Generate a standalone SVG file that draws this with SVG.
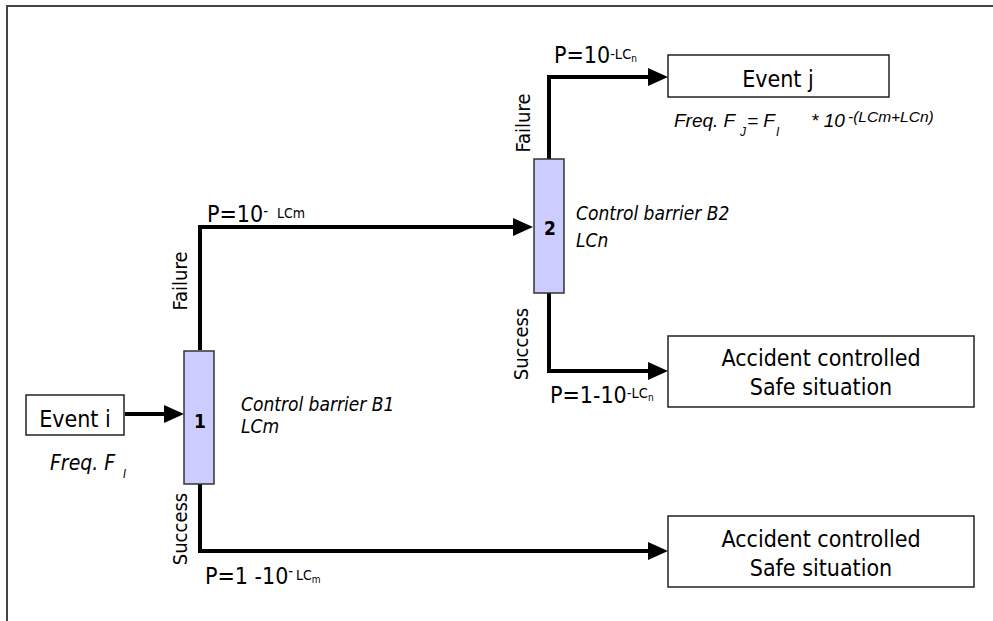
<svg xmlns="http://www.w3.org/2000/svg" width="993" height="621" viewBox="0 0 993 621">
<defs>
<style>
.t{font-family:"DejaVu Sans Condensed","DejaVu Sans",sans-serif;font-stretch:condensed;fill:#000}
.it{font-style:italic}
.ar{font-family:"Liberation Sans",Arial,sans-serif;font-style:italic;fill:#000}
.box{fill:#fff;stroke:#222;stroke-width:1.5}
.bar{fill:#ccccff;stroke:#333;stroke-width:1.5}
.conn{fill:none;stroke:#000;stroke-width:4;stroke-linejoin:miter;marker-end:url(#ah)}
.frame{fill:none;stroke:#444;stroke-width:2}
</style>
<marker id="ah" markerUnits="userSpaceOnUse" markerWidth="20" markerHeight="18" refX="4" refY="9" orient="auto">
<path d="M0,0 L20,9 L0,18 z" fill="#000"/>
</marker>
</defs>
<rect width="993" height="621" fill="#fff"/>
<path class="frame" d="M7,621 V6 H993"/>

<g id="connectors">
<path class="conn" d="M125,414 H168"/>
<path class="conn" d="M200,350 V227 H517"/>
<path class="conn" d="M200,484 V551 H652"/>
<path class="conn" d="M549,159 V77 H652"/>
<path class="conn" d="M549,293 V371 H652"/>
</g>

<g id="event-i">
<rect class="box" x="26" y="395" width="98" height="40"/>
<text class="t" x="75" y="427" font-size="23" text-anchor="middle">Event i</text>
<text class="t it" x="50" y="470" font-size="21">Freq. F<tspan x="123" y="478" font-size="12">I</tspan></text>
</g>

<g id="barrier-1">
<rect class="bar" x="184" y="351" width="30" height="133"/>
<text class="t" x="200" y="428" font-size="19" font-weight="bold" text-anchor="middle">1</text>
<text class="t it" x="241" y="411" font-size="19">Control barrier B1</text>
<text class="t it" x="241" y="433" font-size="19">LCm</text>
</g>

<g id="barrier-2">
<rect class="bar" x="534" y="159" width="30" height="134"/>
<text class="t" x="550" y="235" font-size="19" font-weight="bold" text-anchor="middle">2</text>
<text class="t it" x="576" y="220" font-size="19">Control barrier B2</text>
<text class="t it" x="576" y="247" font-size="19">LCn</text>
</g>

<g id="event-j">
<rect class="box" x="668" y="55" width="221" height="42"/>
<text class="t" x="778" y="87" font-size="23" text-anchor="middle">Event j</text>
<text class="ar" x="674" y="127" font-size="19">Freq. F<tspan x="740" y="136" font-size="12">J</tspan><tspan x="747" y="127">= F</tspan><tspan x="776" y="136" font-size="12">I</tspan><tspan x="811" y="127">* 10</tspan><tspan x="848" y="122" font-size="15.5">-(LCm+LCn)</tspan></text>
</g>

<g id="safe-1">
<rect class="box" x="668" y="336" width="306" height="71"/>
<text class="t" x="821" y="366" font-size="23" text-anchor="middle">Accident controlled</text>
<text class="t" x="821" y="395" font-size="23" text-anchor="middle">Safe situation</text>
</g>

<g id="safe-2">
<rect class="box" x="668" y="516" width="306" height="71"/>
<text class="t" x="821" y="547" font-size="23" text-anchor="middle">Accident controlled</text>
<text class="t" x="821" y="576" font-size="23" text-anchor="middle">Safe situation</text>
</g>

<g id="labels">
<text class="t" font-size="20" text-anchor="middle" transform="translate(187,281) rotate(-90)">Failure</text>
<text class="t" font-size="20" text-anchor="middle" transform="translate(187,529) rotate(-90)">Success</text>
<text class="t" font-size="20" text-anchor="middle" transform="translate(530,123) rotate(-90)">Failure</text>
<text class="t" font-size="20" text-anchor="middle" transform="translate(528,344) rotate(-90)">Success</text>

<text class="t" x="207" y="222" font-size="23">P=10<tspan y="216" font-size="15">-</tspan><tspan x="277" y="218" font-size="14">LCm</tspan></text>

<text class="t" x="554" y="63" font-size="23">P=10<tspan y="59" font-size="14.5">-LC</tspan><tspan y="62" font-size="10">n</tspan></text>

<text class="t" x="550" y="403" font-size="23">P=1-10<tspan y="398" font-size="14.5">-LC</tspan><tspan y="401" font-size="10">n</tspan></text>

<text class="t" x="205" y="584" font-size="23">P=1 -10<tspan y="576" font-size="15">-</tspan><tspan x="296" y="580" font-size="14">LC</tspan><tspan y="583" font-size="10">m</tspan></text>
</g>
</svg>
